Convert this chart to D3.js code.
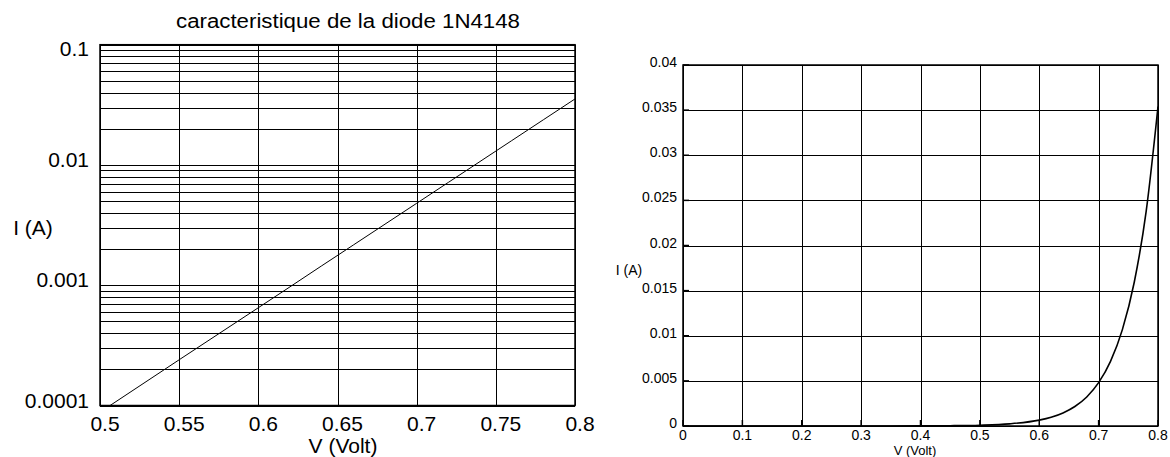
<!DOCTYPE html>
<html>
<head>
<meta charset="utf-8">
<script src="https://cdn.jsdelivr.net/npm/d3@7"></script>
<style>
  body { margin: 0; background: #ffffff; }
  text { font-family: "Liberation Sans", Arial, sans-serif; fill: #000; }
</style>
</head>
<body>
<svg id="chart"></svg>
<script>
const width = 1170, height = 457

// diode curve
const voltage = [0, 0.05, 0.1, 0.15, 0.2, 0.25, 0.3, 0.35, 0.4, 0.45, 0.5, 0.55,
    0.6, 0.62, 0.64, 0.66, 0.68, 0.7, 0.72, 0.74, 0.76, 0.78, 0.8]
const current = [4.0e-9, 1.1e-8, 3.0e-8, 8.1e-8, 2.2e-7, 6.0e-7, 1.6e-6, 4.4e-6, 1.2e-5, 3.2e-5, 8.8e-5, 2.4e-4,
    6.5e-4, 9.7e-4, 1.45e-3, 2.16e-3, 3.22e-3, 4.8e-3, 7.16e-3, 1.068e-2, 1.593e-2, 2.375e-2, 3.54e-2]

const logXTicks = [0.5, 0.55, 0.6, 0.65, 0.7, 0.75, 0.8]
const logYTicks = [0.0001, 0.001, 0.01, 0.1]
const linXTicks = [0, 0.1, 0.2, 0.3, 0.4, 0.5, 0.6, 0.7, 0.8]
const linYTicks = [0, 0.005, 0.01, 0.015, 0.02, 0.025, 0.03, 0.035, 0.04]

const titleText = "caracteristique de la diode 1N4148"
const xLabel = "V (Volt)"
const yLabel = "I (A)"

const points = voltage.map((v, i) => ({v: v, i: current[i]}))

const svg = d3.select("svg#chart")
    .attr("width", width)
    .attr("height", height)
    .attr("viewBox", [0, 0, width, height])

// ---------- left panel: log scale ----------
const lx = d3.scaleLinear().domain([0.5, 0.8]).range([100, 575])
const ly = d3.scaleLog().domain([0.0001, 0.1]).range([405.5, 44.7])

// minor grid values 1..9 per decade
const logGrid = []
for (let e = -4; e < -1; e++) {
    for (let k = 1; k <= 9; k++) logGrid.push(k * Math.pow(10, e))
}
logGrid.push(0.1)

const left = svg.append("g")

left.append("g").selectAll("line.hgrid")
    .data(logGrid)
    .join("line").attr("class", "hgrid")
    .attr("x1", lx(0.5)).attr("x2", lx(0.8))
    .attr("y1", d => Math.round(ly(d)) + 0.5).attr("y2", d => Math.round(ly(d)) + 0.5)
    .attr("stroke", "#000").attr("stroke-width", 1)

left.append("g").selectAll("line.vgrid")
    .data(logXTicks)
    .join("line").attr("class", "vgrid")
    .attr("x1", d => Math.round(lx(d)) + 0.5).attr("x2", d => Math.round(lx(d)) + 0.5)
    .attr("y1", ly(0.1)).attr("y2", ly(0.0001))
    .attr("stroke", "#000").attr("stroke-width", 1)

left.append("rect")
    .attr("x", lx(0.5)).attr("y", ly(0.1))
    .attr("width", lx(0.8) - lx(0.5)).attr("height", ly(0.0001) - ly(0.1))
    .attr("fill", "none").attr("stroke", "#000").attr("stroke-width", 1.5)

svg.append("clipPath").attr("id", "clip-left")
    .append("rect")
    .attr("x", lx(0.5)).attr("y", ly(0.1))
    .attr("width", lx(0.8) - lx(0.5)).attr("height", ly(0.0001) - ly(0.1))

left.append("path")
    .datum(points.filter(d => d.v >= 0.5))
    .attr("clip-path", "url(#clip-left)")
    .attr("fill", "none").attr("stroke", "#000").attr("stroke-width", 1)
    .attr("d", d3.line().x(d => lx(d.v)).y(d => ly(d.i)))

left.append("g").selectAll("text.xtick")
    .data(logXTicks)
    .join("text").attr("class", "xtick")
    .attr("x", d => lx(d) + 5).attr("y", 431)
    .attr("text-anchor", "middle").attr("font-size", 21)
    .text(d => d)

left.append("g").selectAll("text.ytick")
    .data(logYTicks)
    .join("text").attr("class", "ytick")
    .attr("x", 89).attr("y", d => Math.max(ly(d) + 2, 56))
    .attr("text-anchor", "end").attr("font-size", 21)
    .text(d => d)

left.append("text")
    .attr("x", 176).attr("y", 28)
    .attr("font-size", 20)
    .attr("textLength", 344).attr("lengthAdjust", "spacingAndGlyphs")
    .text(titleText)

left.append("text")
    .attr("x", 343).attr("y", 453)
    .attr("text-anchor", "middle").attr("font-size", 21)
    .text(xLabel)

left.append("text")
    .attr("x", 33).attr("y", 235)
    .attr("text-anchor", "middle").attr("font-size", 21)
    .text(yLabel)

// ---------- right panel: linear scale ----------
const rx = d3.scaleLinear().domain([0, 0.8]).range([683, 1158])
const ry = d3.scaleLinear().domain([0, 0.04]).range([426, 65])

const right = svg.append("g")

right.append("g").selectAll("line.hgrid")
    .data(linYTicks)
    .join("line").attr("class", "hgrid")
    .attr("x1", rx(0)).attr("x2", rx(0.8))
    .attr("y1", d => Math.round(ry(d)) + 0.5).attr("y2", d => Math.round(ry(d)) + 0.5)
    .attr("stroke", "#000").attr("stroke-width", 1)

right.append("g").selectAll("line.vgrid")
    .data(linXTicks)
    .join("line").attr("class", "vgrid")
    .attr("x1", d => Math.round(rx(d)) + 0.5).attr("x2", d => Math.round(rx(d)) + 0.5)
    .attr("y1", ry(0.04)).attr("y2", ry(0))
    .attr("stroke", "#000").attr("stroke-width", 1)

// small inward ticks on the frame
right.append("g").selectAll("line.ytk")
    .data(linYTicks)
    .join("line").attr("class", "ytk")
    .attr("x1", rx(0)).attr("x2", rx(0) + 6)
    .attr("y1", d => ry(d)).attr("y2", d => ry(d))
    .attr("stroke", "#000").attr("stroke-width", 1.5)

right.append("g").selectAll("line.xtk")
    .data(linXTicks)
    .join("line").attr("class", "xtk")
    .attr("x1", d => rx(d)).attr("x2", d => rx(d))
    .attr("y1", ry(0)).attr("y2", ry(0) - 6)
    .attr("stroke", "#000").attr("stroke-width", 1.5)

right.append("rect")
    .attr("x", rx(0)).attr("y", ry(0.04))
    .attr("width", rx(0.8) - rx(0)).attr("height", ry(0) - ry(0.04))
    .attr("fill", "none").attr("stroke", "#000").attr("stroke-width", 1.5)

right.append("path")
    .datum(points)
    .attr("fill", "none").attr("stroke", "#000").attr("stroke-width", 1.6)
    .attr("d", d3.line().curve(d3.curveMonotoneX).x(d => rx(d.v)).y(d => ry(d.i)))

right.append("g").selectAll("text.xtick")
    .data(linXTicks)
    .join("text").attr("class", "xtick")
    .attr("x", d => rx(d)).attr("y", 440)
    .attr("text-anchor", "middle").attr("font-size", 14)
    .text(d => d)

right.append("text")
    .attr("x", 915).attr("y", 455)
    .attr("text-anchor", "middle").attr("font-size", 13)
    .text(xLabel)

right.append("g").selectAll("text.ytick")
    .data(linYTicks)
    .join("text").attr("class", "ytick")
    .attr("x", 677).attr("y", d => ry(d) + 2)
    .attr("text-anchor", "end").attr("font-size", 14)
    .text(d => d)

right.append("text")
    .attr("x", 629).attr("y", 275)
    .attr("text-anchor", "middle").attr("font-size", 14)
    .text(yLabel)
</script>
</body>
</html>
